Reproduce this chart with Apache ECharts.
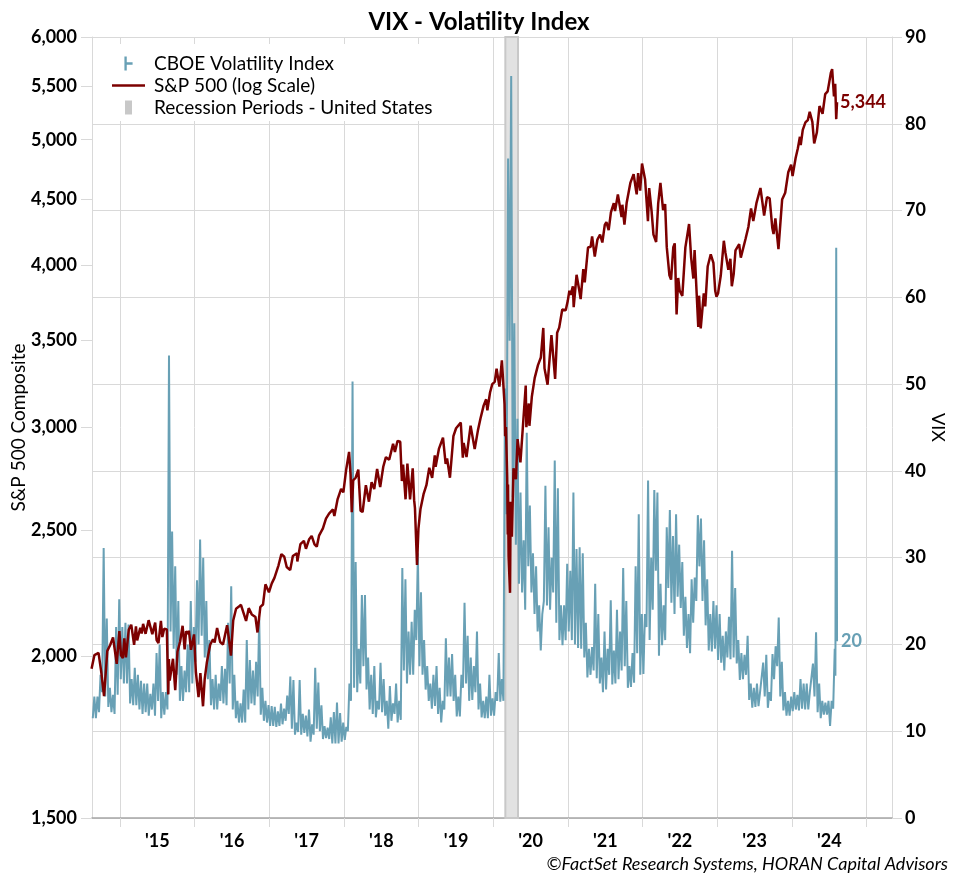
<!DOCTYPE html>
<html><head><meta charset="utf-8">
<script src="https://cdn.jsdelivr.net/npm/echarts@6/dist/echarts.min.js"></script>
<style>html,body{margin:0;padding:0;background:#fff}#c{width:958px;height:886px}</style>
</head><body><div id="c"></div>
<script>
// ---------------- DATA ----------------
const spxDates = [
'2014-08-15','2014-08-29','2014-09-18','2014-10-01','2014-10-15','2014-10-31','2014-11-14','2014-11-28','2014-12-16','2014-12-29',
'2015-01-06','2015-01-15','2015-01-22','2015-01-30','2015-02-13','2015-02-25','2015-03-11','2015-03-20','2015-03-26','2015-04-10','2015-04-17','2015-04-24','2015-05-06','2015-05-21','2015-06-08','2015-06-22','2015-06-29','2015-07-08','2015-07-20','2015-07-27','2015-08-05','2015-08-18','2015-08-25','2015-08-28','2015-09-01','2015-09-17','2015-09-28','2015-10-09','2015-10-22','2015-11-03','2015-11-13','2015-11-20','2015-12-02','2015-12-04','2015-12-14','2015-12-29',
'2016-01-07','2016-01-20','2016-01-29','2016-02-11','2016-02-19','2016-03-01','2016-03-17','2016-03-31','2016-04-08','2016-04-20','2016-05-05','2016-05-19','2016-06-08','2016-06-15','2016-06-27','2016-07-08','2016-07-22','2016-08-05','2016-08-15','2016-09-09','2016-09-22','2016-10-07','2016-10-25','2016-11-04','2016-11-18','2016-12-01','2016-12-13','2016-12-30',
'2017-01-13','2017-01-26','2017-02-03','2017-02-15','2017-03-01','2017-03-15','2017-03-27','2017-04-13','2017-04-26','2017-05-16','2017-05-18','2017-06-02','2017-06-19','2017-06-29','2017-07-14','2017-07-27','2017-08-10','2017-08-21','2017-09-01','2017-09-20','2017-10-05','2017-10-20','2017-11-08','2017-11-15','2017-12-01','2017-12-18','2017-12-29',
'2018-01-12','2018-01-26','2018-02-02','2018-02-08','2018-02-15','2018-02-27','2018-03-08','2018-03-12','2018-03-23','2018-04-02','2018-04-18','2018-05-03','2018-05-16','2018-05-29','2018-06-12','2018-06-27','2018-07-12','2018-07-25','2018-08-10','2018-08-29','2018-09-07','2018-09-20','2018-10-03','2018-10-11','2018-10-17','2018-10-29','2018-11-07','2018-11-20','2018-11-23','2018-12-03','2018-12-10','2018-12-14','2018-12-24','2018-12-31',
'2019-01-10','2019-01-25','2019-02-08','2019-02-22','2019-03-08','2019-03-21','2019-03-25','2019-04-10','2019-04-30','2019-05-13','2019-05-20','2019-06-03','2019-06-20','2019-07-03','2019-07-26','2019-08-05','2019-08-09','2019-08-23','2019-09-12','2019-09-19','2019-10-02','2019-10-18','2019-10-30','2019-11-15','2019-11-27','2019-12-03','2019-12-16','2019-12-27',
'2020-01-08','2020-01-17','2020-01-31','2020-02-12','2020-02-19','2020-02-25','2020-02-28','2020-03-03','2020-03-09','2020-03-12','2020-03-13','2020-03-16','2020-03-23','2020-03-26','2020-04-01','2020-04-09','2020-04-21','2020-04-29','2020-05-13','2020-05-27','2020-06-08','2020-06-11','2020-06-23','2020-06-26','2020-07-08','2020-07-22','2020-08-07','2020-08-21','2020-09-02','2020-09-08','2020-09-23','2020-10-12','2020-10-30','2020-11-09','2020-11-19','2020-12-04','2020-12-21','2020-12-31',
'2021-01-08','2021-01-14','2021-01-25','2021-01-29','2021-02-12','2021-02-25','2021-03-04','2021-03-17','2021-03-24','2021-04-09','2021-04-22','2021-04-29','2021-05-12','2021-05-25','2021-06-07','2021-06-18','2021-06-30','2021-07-08','2021-07-19','2021-07-30','2021-08-13','2021-08-19','2021-09-02','2021-09-10','2021-09-20','2021-09-24','2021-10-04','2021-10-15','2021-11-02','2021-11-18','2021-11-30','2021-12-03','2021-12-10','2021-12-20','2021-12-29',
'2022-01-03','2022-01-13','2022-01-27','2022-02-02','2022-02-14','2022-02-23','2022-03-08','2022-03-18','2022-03-29','2022-04-11','2022-04-21','2022-04-29','2022-05-06','2022-05-12','2022-05-20','2022-05-31','2022-06-07','2022-06-16','2022-06-24','2022-07-01','2022-07-14','2022-07-29','2022-08-16','2022-08-26','2022-09-06','2022-09-12','2022-09-30','2022-10-04','2022-10-12','2022-10-27','2022-11-03','2022-11-15','2022-11-30','2022-12-13','2022-12-22','2022-12-28',
'2023-01-05','2023-01-18','2023-02-02','2023-02-10','2023-02-24','2023-03-06','2023-03-13','2023-03-22','2023-03-31','2023-04-18','2023-04-26','2023-05-04','2023-05-19','2023-06-02','2023-06-15','2023-06-26','2023-07-12','2023-07-31','2023-08-10','2023-08-18','2023-09-01','2023-09-14','2023-09-27','2023-10-03','2023-10-12','2023-10-27','2023-11-14','2023-11-29','2023-12-14','2023-12-28',
'2024-01-04','2024-01-19','2024-01-30','2024-02-09','2024-02-13','2024-02-23','2024-03-07','2024-03-19','2024-03-28','2024-04-10','2024-04-19','2024-05-02','2024-05-15','2024-05-30','2024-06-12','2024-06-24','2024-07-10','2024-07-16','2024-07-25','2024-07-31','2024-08-05','2024-08-09'
];
const spxValues = [
1955,2003,2011,1946,1862,2018,2039,2067,1972,2090,
2002,1992,2063,1995,2096,2114,2040,2108,2056,2102,2081,2117,2080,2131,2079,2122,2057,2046,2128,2068,2099,2096,1868,1989,1914,1990,1882,2015,2052,2110,2023,2089,2080,2092,2022,2078,
1943,1859,1940,1829,1918,1978,2040,2060,2048,2102,2050,2041,2112,2072,2001,2130,2175,2183,2190,2128,2177,2153,2143,2085,2182,2191,2271,2239,
2275,2297,2297,2349,2396,2385,2342,2329,2388,2400,2365,2439,2453,2419,2459,2475,2438,2428,2476,2508,2552,2575,2594,2564,2642,2690,2674,
2786,2873,2762,2581,2731,2744,2738,2784,2588,2582,2708,2630,2722,2689,2787,2699,2798,2846,2833,2914,2872,2930,2925,2728,2809,2641,2814,2641,2633,2790,2637,2600,2351,2507,
2596,2665,2708,2793,2743,2855,2798,2888,2946,2812,2840,2744,2954,2996,3026,2844,2919,2847,3010,3006,2887,2986,3047,3120,3154,3093,3192,3240,
3253,3330,3226,3380,3386,3128,2954,3003,2747,2481,2711,2386,2237,2630,2471,2790,2737,2939,2820,3036,3232,3002,3131,3009,3170,3276,3351,3397,3580,3332,3237,3534,3270,3550,3582,3699,3694,3756,
3825,3796,3855,3714,3934,3829,3768,3974,3881,4129,4135,4211,4063,4188,4226,4166,4298,4320,4258,4395,4468,4405,4537,4459,4358,4455,4300,4471,4631,4704,4567,4538,4712,4568,4793,
4797,4659,4326,4589,4401,4225,4170,4463,4632,4413,4460,4132,4123,3930,3901,4132,4160,3667,3912,3825,3790,4130,4305,4058,3908,4110,3586,3791,3577,3807,3720,3992,4080,4019,3822,3783,
3808,3929,4179,4090,3970,4048,3855,3937,4109,4154,4056,4061,4192,4282,4425,4328,4472,4589,4468,4370,4515,4505,4274,4229,4349,4117,4496,4551,4719,4783,
4688,4840,4925,5026,4953,5088,5157,5178,5254,5161,4967,5064,5308,5236,5421,5448,5633,5667,5399,5522,5186,5344
];

// VIX: intraday high / low per half-month, starting with the second half of Aug 2014
const vixFirstHalfMonth = { year: 2014, month: 8, half: 2 };
const vixHigh = [
14.0,14.0,16.5,31.1,23.0,15.0,14.2,22.0,25.2,
22.0,22.5,22.3,16.0,17.3,16.5,15.8,15.5,15.5,14.3,15.5,19.0,20.0,14.5,14.5,53.3,33.0,29.0,25.0,17.5,17.0,20.0,25.0,22.0,
27.4,32.1,30.0,25.0,20.5,16.0,16.5,15.5,17.5,17.2,22.5,26.7,16.5,13.5,13.2,14.8,20.5,18.2,17.0,18.0,23.0,15.0,13.5,13.0,
12.9,12.8,12.3,13.2,12.6,14.1,16.3,15.9,11.0,15.9,12.0,11.8,12.5,10.8,17.3,15.6,13.0,10.6,10.4,11.6,12.2,13.3,12.1,11.0,
10.5,15.5,50.3,29.5,19.5,25.7,25.7,18.5,16.5,17.5,13.5,17.9,16.0,13.5,15.2,13.2,15.5,13.5,28.8,27.5,21.5,22.6,24.0,30.5,
26.0,20.5,17.5,15.5,16.5,17.5,15.0,13.5,20.7,18.5,18.9,16.5,14.0,16.5,24.8,21.0,18.5,17.5,21.5,15.5,13.5,14.0,16.5,13.8,
14.5,19.0,16.0,49.5,76.0,85.5,57.0,46.0,37.5,32.0,44.4,36.0,30.5,29.0,24.5,23.5,38.3,33.5,30.0,41.2,38.0,24.5,24.5,29.3,
28.5,37.5,31.0,31.2,30.5,22.5,19.5,19.7,27.0,23.5,18.5,21.5,19.5,25.1,19.3,24.0,21.5,28.8,25.0,17.5,19.0,29.0,35.0,23.5,
23.5,38.9,30.0,37.8,37.5,27.0,24.5,33.5,35.5,32.5,35.0,31.5,29.5,25.5,23.5,27.5,27.7,34.9,34.5,32.0,27.5,23.5,25.0,24.5,
23.5,21.0,21.5,23.2,30.8,26.5,20.5,19.0,18.8,21.0,15.5,15.0,15.5,14.5,17.9,18.8,14.5,18.9,19.8,23.1,18.0,14.5,13.5,14.0,
14.5,14.2,16.0,15.5,15.5,14.5,17.8,21.4,15.5,13.5,13.3,13.5,13.5,19.5
];
const vixLow = [
11.5,11.5,12.2,14.5,14.0,12.8,12.2,12.0,14.2,
16.0,15.5,15.5,13.2,13.0,13.0,12.5,12.0,12.2,11.8,12.5,11.8,13.5,11.5,11.9,12.5,21.5,19.5,16.5,13.5,13.5,14.5,14.5,15.5,
18.0,20.0,21.0,18.5,16.0,13.0,12.5,12.5,13.5,13.2,13.0,15.5,12.5,11.5,11.0,11.0,11.0,12.5,13.2,13.0,14.0,11.9,11.2,11.0,
10.6,10.6,10.5,10.6,10.8,11.2,12.0,10.3,9.6,9.9,9.6,9.8,9.4,8.8,9.6,10.3,10.0,9.1,9.2,9.1,8.6,8.6,8.6,8.8,
9.0,10.0,13.5,15.0,14.5,15.5,17.5,14.8,12.5,12.0,11.6,12.5,12.2,11.8,10.3,11.2,12.0,11.0,11.3,17.0,15.5,16.5,16.5,20.5,
17.5,16.5,14.8,13.5,12.6,12.9,12.0,11.0,12.5,14.0,14.0,13.5,11.7,11.7,15.0,15.5,13.5,13.6,14.5,12.5,11.6,11.5,11.5,11.8,
11.8,13.5,13.4,13.5,35.0,55.0,37.0,31.5,27.0,26.0,24.0,29.0,26.0,23.5,21.5,19.3,25.0,24.5,24.0,26.0,22.5,20.5,19.9,20.5,
21.5,20.5,20.0,19.6,19.5,18.5,16.2,16.5,17.0,16.1,15.5,14.5,14.8,16.5,15.4,15.5,16.0,17.0,17.5,15.0,15.1,15.6,19.0,16.5,
16.6,22.0,20.5,24.0,28.5,18.7,19.9,20.5,26.5,24.8,23.5,25.5,24.2,21.0,19.6,19.0,22.5,25.0,29.0,25.0,22.2,19.3,19.2,19.5,
18.2,17.9,17.0,18.5,18.3,18.5,17.8,15.9,16.0,16.5,13.6,12.7,12.8,12.9,14.5,14.0,12.7,13.5,16.0,17.5,14.0,12.4,11.8,11.8,
12.3,12.5,12.4,12.6,12.5,12.5,14.5,14.0,12.2,11.5,11.9,11.9,10.6,12.6
];
const vixTailDates = ['2024-08-01','2024-08-02','2024-08-05','2024-08-09'];
const vixTailValues = [16.4, 29.7, 65.7, 20.37];

const recessions = [['2020-02-29','2020-05-01']];
const spxTickValues = [1500,2000,2500,3000,3500,4000,4500,5000,5500,6000];
const yearTicks = [2015,2016,2017,2018,2019,2020,2021,2022,2023,2024,2025];
const yearLabelLast = 2024;
const xMin = 2014.625, xMax = 2025.34;

// ---------------- HELPERS ----------------
function decYear(s){
  const d = new Date(s + 'T00:00:00Z');
  const y = d.getUTCFullYear();
  const a = Date.UTC(y,0,1), b = Date.UTC(y+1,0,1);
  return y + (d.getTime() - a)/(b - a);
}
const spxData = spxDates.map((d,i)=>[decYear(d), Math.log(spxValues[i])]);
const vixData = [];
const k0 = vixFirstHalfMonth.year*24 + (vixFirstHalfMonth.month-1)*2 + (vixFirstHalfMonth.half-1);
for (let i=0;i<vixHigh.length;i++){
  const t = (k0+i)/24;
  vixData.push([t + 1/96, vixLow[i]]);
  vixData.push([t + 3/96, vixHigh[i]]);
}
vixTailDates.forEach((d,i)=>vixData.push([decYear(d), vixTailValues[i]]));

const FONT = 'Lato';
const VIXC = '#68a0b5', SPXC = '#7c0000', GRID = '#d9d9d9';
const YEAR_PX = 800/(xMax-xMin);

const chart = echarts.init(document.getElementById('c'), null, {renderer:'canvas'});
chart.setOption({
  animation:false,
  backgroundColor:'#fff',
  textStyle:{fontFamily:FONT},
  title:[
    {text:'VIX - Volatility Index', left:'center', top:5,
     textStyle:{fontFamily:FONT, fontSize:24, fontWeight:'bold', color:'#000'}},
    {text:'©FactSet Research Systems, HORAN Capital Advisors', right:5, bottom:8,
     textStyle:{fontFamily:FONT, fontSize:18, fontStyle:'italic', fontWeight:'normal', color:'#000'}}
  ],
  grid:{left:92, right:66, top:37, bottom:68, containLabel:false, outerBoundsMode:'none'},
  legend:{
    orient:'vertical', left:93, top:44, padding:[10,12,4,19], itemGap:3,
    backgroundColor:'#fff', itemWidth:33, itemHeight:14, symbolKeepAspect:true,
    textStyle:{fontFamily:FONT, fontSize:19, color:'#000', padding:[0,0,0,4]},
    data:[
      {name:'CBOE Volatility Index', icon:'path://M0,0h2v12h-2z M2,5h5v2h-5z'},
      {name:'S&P 500 (log Scale)', icon:'path://M0,0h33v2.4h-33z'},
      {name:'Recession Periods - United States', icon:'path://M0,0h7v14h-7z'}
    ]
  },
  xAxis:{
    type:'value', min:xMin, max:xMax,
    axisLine:{show:true, lineStyle:{color:'#a6a6a6', width:1.5}},
    axisTick:{show:true, length:9, lineStyle:{color:GRID}, customValues:yearTicks},
    splitLine:{show:true, lineStyle:{color:GRID}},
    axisLabel:{
      margin:14, fontFamily:FONT, fontSize:18, fontWeight:'bold', color:'#000',
      customValues:yearTicks,
      padding:[0,0,0,YEAR_PX],
      formatter:v=>{
        const r = Math.round(v);
        if (r>yearLabelLast) return '';
        return "'" + String(r).slice(2);
      }
    }
  },
  yAxis:[
    {type:'value', position:'left', min:Math.log(1500), max:Math.log(6000),
     name:'S&P 500 Composite', nameLocation:'middle', nameGap:64, nameRotate:90, nameMoveOverlap:false,
     nameTextStyle:{fontFamily:FONT, fontSize:19, color:'#000'},
     axisLine:{show:true, lineStyle:{color:GRID}},
     axisTick:{show:true, length:11, lineStyle:{color:GRID}, customValues:spxTickValues.map(Math.log)},
     splitLine:{show:false},
     axisLabel:{margin:15, fontFamily:FONT, fontSize:18, fontWeight:'bold', color:'#000',
       customValues:spxTickValues.map(Math.log),
       formatter:v=>Math.round(Math.exp(v)).toLocaleString('en-US')}
    },
    {type:'value', position:'right', min:0, max:90, interval:10,
     name:'VIX', nameLocation:'middle', nameGap:37, nameRotate:-90, nameMoveOverlap:false,
     nameTextStyle:{fontFamily:FONT, fontSize:18, color:'#000'},
     axisLine:{show:true, lineStyle:{color:GRID}},
     axisTick:{show:true, length:10, lineStyle:{color:GRID}},
     splitLine:{show:true, lineStyle:{color:GRID}},
     axisLabel:{margin:13, fontFamily:FONT, fontSize:18, fontWeight:'bold', color:'#000'}
    }
  ],
  series:[
    {name:'Recession Periods - United States', type:'line', yAxisIndex:1, data:[], z:1,
     color:'#c8c8c8',
     markArea:{silent:true, itemStyle:{color:'#e2e2e2', borderColor:'#c8c8c8', borderWidth:2},
       data:recessions.map(r=>[{xAxis:decYear(r[0])},{xAxis:decYear(r[1])}])}
    },
    {name:'CBOE Volatility Index', type:'line', yAxisIndex:1, data:vixData, z:3,
     color:VIXC, showSymbol:false, lineStyle:{width:2, color:VIXC},
     endLabel:{show:true, formatter:p=>String(Math.round(p.value[1])), color:VIXC,
       fontFamily:FONT, fontSize:18, fontWeight:'bold', distance:4}
    },
    {name:'S&P 500 (log Scale)', type:'line', yAxisIndex:0, data:spxData, z:4,
     color:SPXC, showSymbol:false, lineStyle:{width:2.5, color:SPXC},
     endLabel:{show:true, formatter:p=>Math.round(Math.exp(p.value[1])).toLocaleString('en-US'), color:SPXC,
       fontFamily:FONT, fontSize:18, fontWeight:'bold', distance:3}
    }
  ]
});
</script></body></html>
